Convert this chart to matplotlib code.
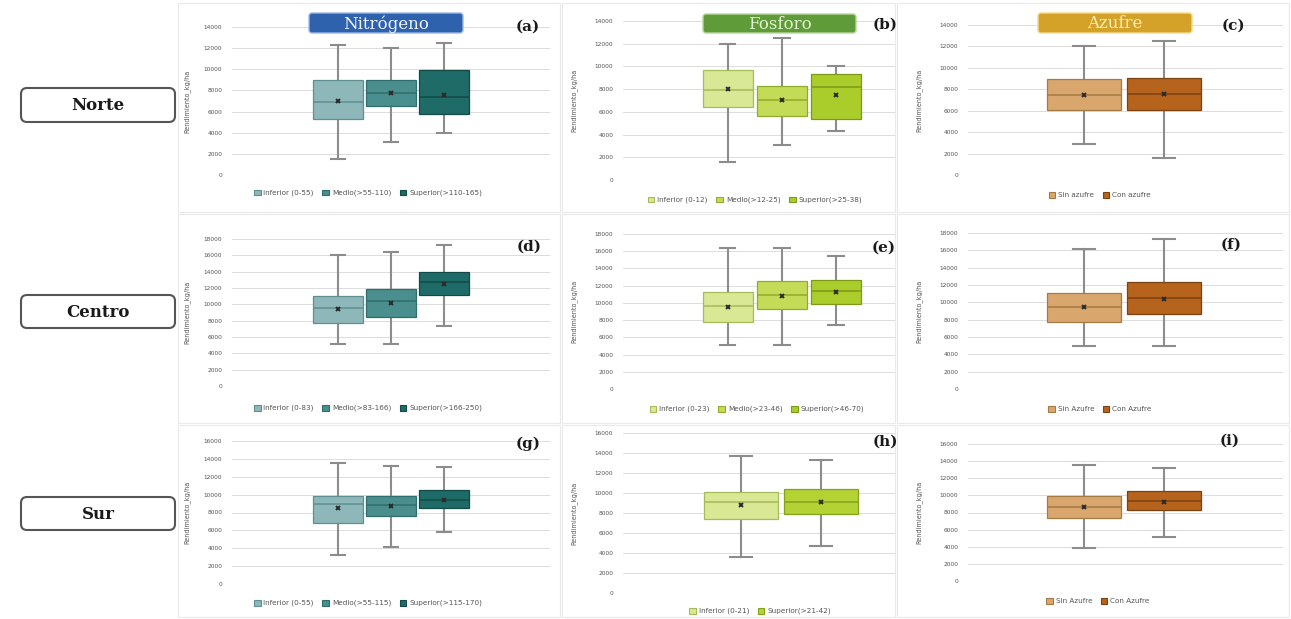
import matplotlib
matplotlib.use('Agg')
import matplotlib.pyplot as plt
from matplotlib.patches import FancyBboxPatch, Rectangle, Patch

# ---- data (kg/ha) ----
# (a) Norte - Nitrogeno
a_labels = ["Inferior (0-55)", "Medio(>55-110)", "Superior(>110-165)"]
a_whislo = [1500, 3100, 4000]
a_q1 = [5300, 6500, 5750]
a_med = [6950, 7800, 7400]
a_mean = [7000, 7800, 7600]
a_q3 = [9000, 9000, 9900]
a_whishi = [12300, 12000, 12500]

# (b) Norte - Fosforo
b_labels = ["Inferior (0-12)", "Medio(>12-25)", "Superior(>25-38)"]
b_whislo = [1600, 3100, 4300]
b_q1 = [6400, 5600, 5400]
b_med = [7900, 7000, 8150]
b_mean = [8000, 7000, 7500]
b_q3 = [9700, 8300, 9300]
b_whishi = [12000, 12500, 10000]

# (c) Norte - Azufre
c_labels = ["Sin azufre", "Con azufre"]
c_whislo = [2900, 1600]
c_q1 = [6100, 6100]
c_med = [7500, 7600]
c_mean = [7500, 7600]
c_q3 = [9000, 9100]
c_whishi = [12000, 12500]

# (d) Centro - Nitrogeno
d_labels = ["Inferior (0-83)", "Medio(>83-166)", "Superior(>166-250)"]
d_whislo = [5100, 5100, 7400]
d_q1 = [7700, 8500, 11200]
d_med = [9500, 10400, 12750]
d_mean = [9400, 10200, 12550]
d_q3 = [11050, 11900, 13900]
d_whishi = [16100, 16400, 17300]

# (e) Centro - Fosforo
e_labels = ["Inferior (0-23)", "Medio(>23-46)", "Superior(>46-70)"]
e_whislo = [5100, 5100, 7400]
e_q1 = [7750, 9300, 9850]
e_med = [9600, 10950, 11350]
e_mean = [9500, 10850, 11250]
e_q3 = [11250, 12500, 12700]
e_whishi = [16400, 16400, 15500]

# (f) Centro - Azufre
f_labels = ["Sin Azufre", "Con Azufre"]
f_whislo = [5000, 5000]
f_q1 = [7750, 8650]
f_med = [9500, 10500]
f_mean = [9450, 10400]
f_q3 = [11100, 12300]
f_whishi = [16100, 17300]

# (g) Sur - Nitrogeno
g_labels = ["Inferior (0-55)", "Medio(>55-115)", "Superior(>115-170)"]
g_whislo = [3200, 4100, 5800]
g_q1 = [6850, 7650, 8500]
g_med = [8950, 8850, 9400]
g_mean = [8450, 8700, 9400]
g_q3 = [9900, 9900, 10500]
g_whishi = [13500, 13250, 13100]

# (h) Sur - Fosforo
h_labels = ["Inferior (0-21)", "Superior(>21-42)"]
h_whislo = [3600, 4700]
h_q1 = [7450, 7950]
h_med = [9100, 9100]
h_mean = [8800, 9100]
h_q3 = [10100, 10400]
h_whishi = [13700, 13300]

# (i) Sur - Azufre
i_labels = ["Sin Azufre", "Con Azufre"]
i_whislo = [3850, 5100]
i_q1 = [7300, 8300]
i_med = [8700, 9350]
i_mean = [8650, 9250]
i_q3 = [9900, 10550]
i_whishi = [13600, 13150]

regions = ["Norte", "Centro", "Sur"]
nutrients = ["Nitrógeno", "Fosforo", "Azufre"]

# ---- colours ----
n_face = ['#8db7b9', '#4a8e8e', '#1f6b68']
n_edge = ['#5f8f91', '#2f6e6e', '#124a48']
p_face = ['#d9e894', '#c3db56', '#abcd2c']
p_edge = ['#a6bb5a', '#90ac2c', '#7c9a18']
h_face = ['#d9e894', '#b4d233']
h_edge = ['#a6bb5a', '#84a21e']
s_face = ['#d9a66e', '#b6641d']
s_edge = ['#a57a45', '#7d420f']

W, H = 1291, 619
fig = plt.figure(figsize=(W / 100, H / 100), dpi=100)

bg = fig.add_axes([0, 0, 1, 1], zorder=-10)
bg.set_xlim(0, W)
bg.set_ylim(H, 0)
bg.axis('off')
fg = fig.add_axes([0, 0, 1, 1], zorder=10)
fg.set_xlim(0, W)
fg.set_ylim(H, 0)
fg.axis('off')
fg.patch.set_alpha(0)

# faint frames of the nine pasted charts
for x0, x1 in [(178, 560), (562, 895), (897, 1289)]:
    for y0, y1 in [(3, 212), (214, 423), (425, 617)]:
        bg.add_patch(Rectangle((x0, y0), x1 - x0, y1 - y0, fill=False,
                               edgecolor='#e9e9e9', lw=0.8))


def panel(px, ymax, xlim, labels, whislo, q1, med, mean, q3, whishi,
          faces, edges, leg_xy, letter, letter_xy, ylab_x):
    left, top, right, bottom = px
    ax = fig.add_axes([left / W, 1 - bottom / H, (right - left) / W, (bottom - top) / H])
    stats = []
    for k in range(len(labels)):
        stats.append({'whislo': whislo[k], 'q1': q1[k], 'med': med[k],
                      'mean': mean[k], 'q3': q3[k], 'whishi': whishi[k],
                      'fliers': []})
    pos = list(range(len(labels)))
    art = ax.bxp(stats, positions=pos, widths=0.93, patch_artist=True,
                 showmeans=True, capwidths=0.28,
                 whiskerprops=dict(color='#8c8c8c', lw=1.5),
                 capprops=dict(color='#8c8c8c', lw=1.5),
                 meanprops=dict(marker='x', markersize=3, mew=1.4,
                                markeredgecolor='#2b2b2b'))
    for k, b in enumerate(art['boxes']):
        b.set_facecolor(faces[k])
        b.set_edgecolor(edges[k])
        b.set_linewidth(0.9)
        b.set_zorder(3)
        art['medians'][k].set_color(edges[k])
        art['medians'][k].set_linewidth(1.1)
        art['medians'][k].set_zorder(4)
        art['means'][k].set_zorder(5)
    ax.set_ylim(0, ymax)
    ax.set_xlim(*xlim)
    ax.set_yticks(range(0, ymax + 1, 2000))
    ax.yaxis.grid(True, color='#dcdcdc', lw=0.7)
    ax.set_axisbelow(True)
    ax.set_xticks([])
    ax.tick_params(axis='y', length=0, pad=7, labelsize=4.2, labelcolor='#555555')
    for s in ax.spines.values():
        s.set_visible(False)
    handles = [Patch(facecolor=faces[k], edgecolor=edges[k], lw=0.8, label=labels[k])
               for k in range(len(labels))]
    fig.legend(handles=handles, loc='center', ncol=len(labels),
               bbox_to_anchor=(leg_xy[0] / W, 1 - leg_xy[1] / H), frameon=False,
               fontsize=5.2, handlelength=0.9, handleheight=0.9,
               handletextpad=0.4, columnspacing=1.2, labelcolor='#555555')
    fig.text(ylab_x / W, 1 - (top + bottom) / 2 / H, "Rendimiento_kg/ha", rotation=90,
             ha='center', va='center', fontsize=4.7, color='#555555')
    fg.text(letter_xy[0], letter_xy[1], letter, ha='center', va='center',
            fontsize=11, fontweight='bold', family='DejaVu Serif', color='#1a1a1a')
    return ax


panel((232, 27, 550, 175), 14000, (-2.0, 4.0), a_labels, a_whislo, a_q1, a_med, a_mean,
      a_q3, a_whishi, n_face, n_edge, (368, 193), "(a)", (528, 27), 187)
panel((623, 21, 895, 180), 14000, (-1.94, 3.09), b_labels, b_whislo, b_q1, b_med, b_mean,
      b_q3, b_whishi, p_face, p_edge, (755, 200), "(b)", (885, 25), 574)
panel((968, 25, 1283, 175), 14000, (-1.45, 2.49), c_labels, c_whislo, c_q1, c_med, c_mean,
      c_q3, c_whishi, s_face, s_edge, (1100, 195), "(c)", (1233, 26), 919)

panel((232, 239, 550, 386), 18000, (-2.0, 4.0), d_labels, d_whislo, d_q1, d_med, d_mean,
      d_q3, d_whishi, n_face, n_edge, (368, 408), "(d)", (529, 247), 187)
panel((623, 234, 895, 389), 18000, (-1.94, 3.09), e_labels, e_whislo, e_q1, e_med, e_mean,
      e_q3, e_whishi, p_face, p_edge, (757, 409), "(e)", (884, 248), 574)
panel((968, 233, 1283, 389), 18000, (-1.45, 2.49), f_labels, f_whislo, f_q1, f_med, f_mean,
      f_q3, f_whishi, s_face, s_edge, (1100, 409), "(f)", (1231, 245), 919)

panel((232, 441, 550, 584), 16000, (-2.0, 4.0), g_labels, g_whislo, g_q1, g_med, g_mean,
      g_q3, g_whishi, n_face, n_edge, (368, 603), "(g)", (528, 444), 187)
panel((623, 433, 895, 593), 16000, (-1.475, 1.925), h_labels, h_whislo, h_q1, h_med, h_mean,
      h_q3, h_whishi, h_face, h_edge, (760, 611), "(h)", (885, 442), 574)
panel((968, 444, 1283, 581), 16000, (-1.45, 2.49), i_labels, i_whislo, i_q1, i_med, i_mean,
      i_q3, i_whishi, s_face, s_edge, (1098, 601), "(i)", (1230, 441), 919)

# nutrient headers
head_boxes = [(309, 13, 463, 33), (703, 14, 856, 33), (1038, 13, 1192, 33)]
head_face = ['#2f62ad', '#5f9b38', '#d4a129']
head_edge = ['#9db8e0', '#b7d69a', '#f1dc8c']
head_text = ['#eef3fb', '#e2f3cf', '#fbeeb0']
for k in range(3):
    x0, y0, x1, y1 = head_boxes[k]
    fg.add_patch(FancyBboxPatch((x0, y0), x1 - x0, y1 - y0,
                                boxstyle='round,pad=0,rounding_size=3',
                                facecolor=head_face[k], edgecolor=head_edge[k], lw=1.0))
    fg.text((x0 + x1) / 2, (y0 + y1) / 2 + 1, nutrients[k], ha='center', va='center',
            fontsize=12, family='DejaVu Serif', color=head_text[k])

# region labels
reg_y = [(88, 122), (295, 328), (497, 530)]
for k in range(3):
    y0, y1 = reg_y[k]
    fg.add_patch(FancyBboxPatch((21, y0), 154, y1 - y0,
                                boxstyle='round,pad=0,rounding_size=6',
                                facecolor='white', edgecolor='#555555', lw=1.5))
    fg.text(98, (y0 + y1) / 2 + 1, regions[k], ha='center', va='center',
            fontsize=12, fontweight='bold', family='DejaVu Serif', color='#1a1a1a')

fig.savefig('out.png', dpi=100)
